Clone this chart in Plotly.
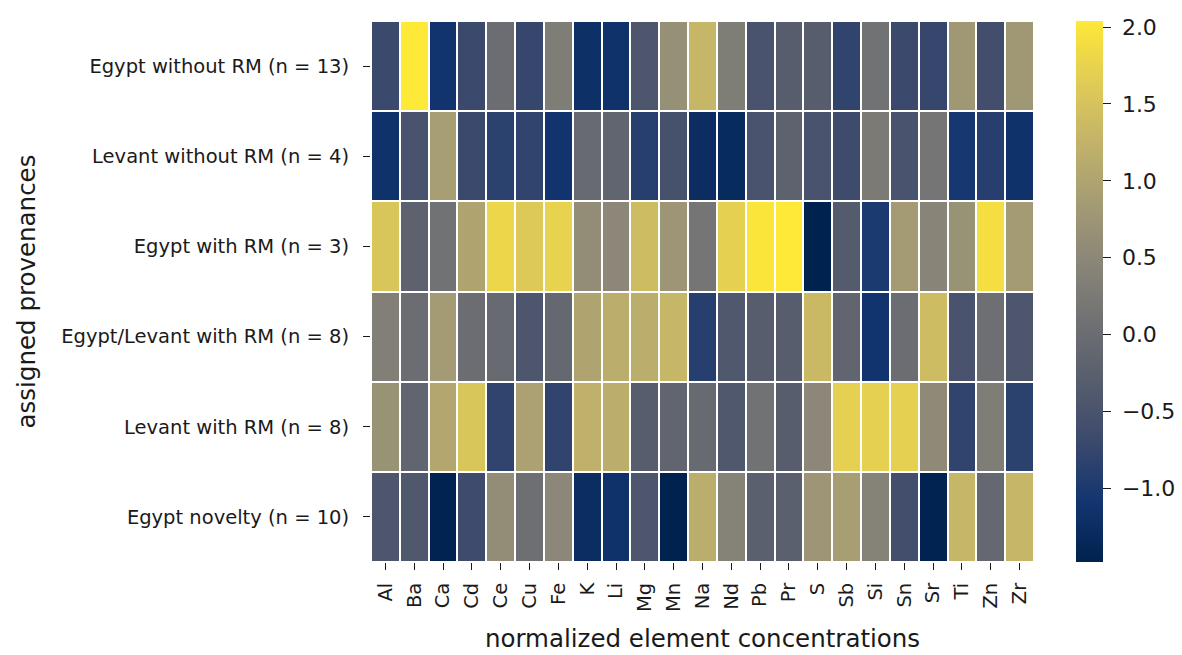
import plotly.graph_objects as go

elements = ["Al", "Ba", "Ca", "Cd", "Ce", "Cu", "Fe", "K", "Li", "Mg", "Mn", "Na",
            "Nd", "Pb", "Pr", "S", "Sb", "Si", "Sn", "Sr", "Ti", "Zn", "Zr"]

provenances = [
    "Egypt without RM (n = 13)",
    "Levant without RM (n = 4)",
    "Egypt with RM (n = 3)",
    "Egypt/Levant with RM (n = 8)",
    "Levant with RM (n = 8)",
    "Egypt novelty (n = 10)",
]

egypt_without_rm = [-0.70, 2.04, -1.10, -0.70, 0.00, -0.75, 0.30, -1.20, -1.15, -0.45, 0.65, 1.30,
                    0.30, -0.50, -0.30, -0.30, -0.80, 0.10, -0.70, -0.75, 0.80, -0.60, 0.80]
levant_without_rm = [-1.15, -0.50, 0.90, -0.70, -0.85, -0.80, -1.10, -0.05, -0.15, -0.90, -0.55, -1.25,
                     -1.30, -0.50, -0.20, -0.50, -0.65, 0.25, -0.50, 0.15, -1.05, -0.90, -1.15]
egypt_with_rm = [1.55, -0.20, 0.10, 1.00, 1.80, 1.60, 1.75, 0.60, 0.50, 1.40, 0.75, 0.15,
                 1.70, 2.00, 2.04, -1.48, -0.35, -1.00, 0.85, 0.45, 0.70, 1.90, 0.85]
egypt_levant_with_rm = [0.35, 0.00, 0.85, 0.00, -0.05, -0.45, -0.10, 1.00, 1.15, 1.15, 1.30, -0.90,
                        -0.40, -0.30, -0.30, 1.35, -0.15, -1.10, 0.00, 1.40, -0.50, 0.05, -0.45]
levant_with_rm = [0.70, -0.15, 1.05, 1.55, -0.80, 0.95, -0.80, 1.20, 1.15, -0.30, -0.15, -0.05,
                  -0.40, 0.10, -0.30, 0.50, 1.70, 1.70, 1.70, 0.55, -0.80, 0.30, -0.85]
egypt_novelty = [-0.45, -0.40, -1.45, -0.65, 0.60, 0.05, 0.50, -1.25, -1.15, -0.45, -1.47, 1.15,
                 0.40, -0.25, -0.25, 0.75, 0.90, 0.40, -0.60, -1.45, 1.30, -0.10, 1.30]

z = [egypt_without_rm, levant_without_rm, egypt_with_rm,
     egypt_levant_with_rm, levant_with_rm, egypt_novelty]

colorbar_ticks = [-1.0, -0.5, 0.0, 0.5, 1.0, 1.5, 2.0]
colorbar_labels = ["\u22121.0", "\u22120.5", "0.0", "0.5", "1.0", "1.5", "2.0"]

FONT = "DejaVu Sans"
INK = "#1a1a1a"

fig = go.Figure(
    go.Heatmap(
        z=z,
        x=elements,
        y=provenances,
        colorscale="cividis",
        xgap=2,
        ygap=2,
        colorbar=dict(
            thickness=27,
            len=1.0,
            lenmode="fraction",
            y=0.5,
            yanchor="middle",
            x=1.0633,
            xanchor="left",
            xpad=0,
            ypad=0,
            outlinewidth=0,
            ticks="outside",
            ticklen=8,
            tickwidth=1.3,
            tickcolor=INK,
            tickvals=colorbar_ticks,
            ticktext=["\u00a0" + t for t in colorbar_labels],
            tickfont=dict(family=FONT, size=22, color=INK),
        ),
        hovertemplate="%{y}<br>%{x}: %{z:.2f}<extra></extra>",
    )
)

fig.update_layout(
    width=1182,
    height=655,
    margin=dict(l=371, r=148, t=21, b=93, autoexpand=False),
    paper_bgcolor="white",
    plot_bgcolor="white",
    font=dict(family=FONT, color=INK),
    xaxis=dict(
        title=dict(text="normalized element concentrations",
                   font=dict(family=FONT, size=24.5), standoff=18),
        automargin=False,
        tickangle=-90,
        ticks="outside",
        ticklen=7,
        tickwidth=1.3,
        tickcolor=INK,
        ticklabelstandoff=5,
        tickfont=dict(family=FONT, size=19.5),
        showgrid=False,
        zeroline=False,
    ),
    yaxis=dict(
        title=dict(text="assigned provenances",
                   font=dict(family=FONT, size=24.5), standoff=18),
        automargin=False,
        autorange="reversed",
        ticks="outside",
        ticklen=7,
        tickwidth=1.3,
        tickcolor=INK,
        ticklabelstandoff=10,
        tickfont=dict(family=FONT, size=19.5),
        showgrid=False,
        zeroline=False,
    ),
)

fig.write_html("out.html")
